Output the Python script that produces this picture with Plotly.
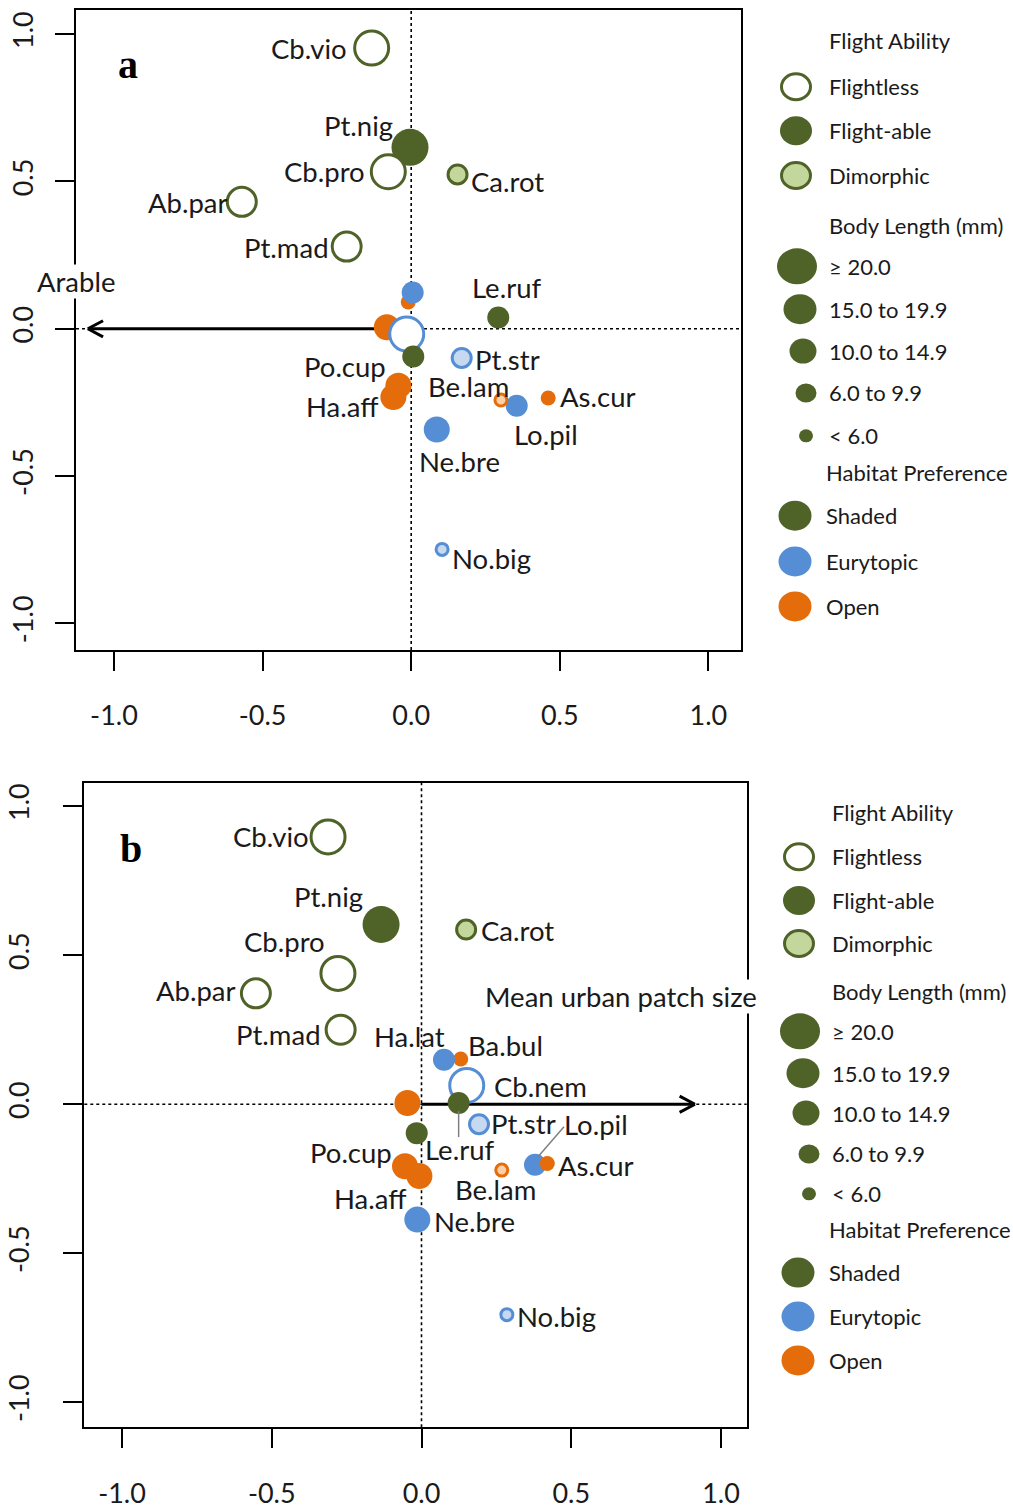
import math
import plotly.graph_objects as go

# ---------------------------------------------------------------- data
labels = ["Cb.vio", "Cb.pro", "Pt.nig", "Ca.rot", "Ab.par", "Pt.mad", "Ba.bul",
          "Ha.lat", "", "Cb.nem", "", "Le.ruf", "Pt.str", "Po.cup", "Ha.aff",
          "Lo.pil", "Be.lam", "As.cur", "Ne.bre", "No.big"]
flight = ["Flightless", "Flightless", "Flight-able", "Dimorphic", "Flightless",
          "Flightless", "Flight-able", "Flight-able", "Flight-able", "Flightless",
          "Flight-able", "Flight-able", "Dimorphic", "Flight-able", "Flight-able",
          "Flight-able", "Dimorphic", "Flight-able", "Flight-able", "Dimorphic"]
habitat = ["Shaded", "Shaded", "Shaded", "Shaded", "Shaded", "Shaded", "Open",
           "Eurytopic", "Open", "Eurytopic", "Shaded", "Shaded", "Eurytopic",
           "Open", "Open", "Eurytopic", "Open", "Open", "Eurytopic", "Eurytopic"]
body_length = ["≥ 20.0", "≥ 20.0", "≥ 20.0", "6.0 to 9.9", "15.0 to 19.9",
               "15.0 to 19.9", "< 6.0", "6.0 to 9.9", "10.0 to 14.9", "≥ 20.0",
               "6.0 to 9.9", "6.0 to 9.9", "6.0 to 9.9", "10.0 to 14.9",
               "10.0 to 14.9", "6.0 to 9.9", "< 6.0", "< 6.0", "10.0 to 14.9",
               "< 6.0"]

# ordination scores, panel a (arable) and panel b (urban patch size)
axis1_a = [-0.133, -0.077, -0.004, 0.156, -0.570, -0.217, -0.010, 0.005, -0.082,
           -0.015, 0.007, 0.293, 0.170, -0.043, -0.060, 0.355, 0.302, 0.461,
           0.086, 0.104]
axis2_a = [0.953, 0.533, 0.616, 0.524, 0.431, 0.279, 0.091, 0.123, 0.005,
           -0.018, -0.094, 0.038, -0.099, -0.193, -0.232, -0.261, -0.242,
           -0.235, -0.342, -0.749]
axis1_b = [-0.312, -0.279, -0.135, 0.149, -0.553, -0.270, 0.131, 0.075, -0.047,
           0.151, -0.016, 0.124, 0.192, -0.055, -0.007, 0.379, 0.268, 0.420,
           -0.014, 0.285]
axis2_b = [0.897, 0.439, 0.603, 0.586, 0.372, 0.250, 0.152, 0.149, 0.004,
           0.063, -0.097, 0.004, -0.067, -0.208, -0.241, -0.203, -0.221,
           -0.199, -0.387, -0.706]

# environmental vectors
arable_vec = (-1.088, 0.0)
urban_vec = (0.913, 0.0)

tick_vals = [-1.0, -0.5, 0.0, 0.5, 1.0]
tick_text = ["-1.0", "-0.5", "0.0", "0.5", "1.0"]

flight_levels = ["Flightless", "Flight-able", "Dimorphic"]
size_levels = ["≥ 20.0", "15.0 to 19.9", "10.0 to 14.9", "6.0 to 9.9", "< 6.0"]
habitat_levels = ["Shaded", "Eurytopic", "Open"]

# ---------------------------------------------------------------- styling
FONT = "Lato"
TXT = "#1a1a1a"
COL = {"Shaded": "#4f6228", "Eurytopic": "#558ed5", "Open": "#e46c0a"}
LIGHT = {"Shaded": "#c3d69b", "Eurytopic": "#c6d9f1", "Open": "#fbd0a8"}
SIZE_PX = {"≥ 20.0": 37, "15.0 to 19.9": 32, "10.0 to 14.9": 26,
           "6.0 to 9.9": 22, "< 6.0": 15}
RING = 3
LABEL_SIZE = 27.5
LEGEND_SIZE = 22

W, H = 1013, 1509


def paper(px, py):
    return px / W, 1 - py / H


# label placement: (xanchor, dx, dy) in screen pixels from the marker centre
label_pos_a = {
    "Cb.vio": ("right", -24, 0), "Pt.nig": ("center", -52, -22),
    "Cb.pro": ("right", -22, 0), "Ca.rot": ("left", 12, 7),
    "Ab.par": ("right", -13, 1), "Pt.mad": ("right", -17, 1),
    "Le.ruf": ("center", 8, -30), "Pt.str": ("left", 12, 2),
    "Po.cup": ("center", -53, -19), "Be.lam": ("center", -32, -14),
    "Ha.aff": ("center", -51, 9), "As.cur": ("left", 11, -2),
    "Lo.pil": ("center", 29, 29), "Ne.bre": ("center", 23, 32),
    "No.big": ("left", 9, 9),
}
label_pos_b = {
    "Cb.vio": ("right", -18, 0), "Pt.nig": ("center", -53, -28),
    "Ca.rot": ("left", 14, 1), "Cb.pro": ("center", -53, -32),
    "Ab.par": ("right", -19, -3), "Pt.mad": ("right", -19, 5),
    "Ha.lat": ("center", -34, -23), "Ba.bul": ("center", 45, -13),
    "Cb.nem": ("left", 26, 1), "Pt.str": ("left", 11, -1),
    "Lo.pil": ("center", 61, -40), "Le.ruf": ("center", 1, 46),
    "Po.cup": ("center", -54, -14), "As.cur": ("left", 10, 2),
    "Be.lam": ("center", -6, 19), "Ha.aff": ("center", -49, 22),
    "Ne.bre": ("left", 16, 2), "No.big": ("left", 9, 2),
}
# leader lines (screen pixel offsets from marker centre)
leaders_b = {"Le.ruf": (0, 8, 0, 34), "Lo.pil": (3, -8, 29, -38)}

# draw order tweaks: species brought to the front in a panel
front_a = ["Cb.pro", "Ha.lat"]
front_b = []

panels = [
    dict(xa="x", ya="y", xs=axis1_a, ys=axis2_a, lab=label_pos_a, lead={},
         front=front_a, xdom=(76, 740.7), ydom=(10, 651.7),
         xr=(-1.1278, 1.1087), yr=(-1.0904, 1.0823), ystand=11,
         vec=arable_vec, vec_name="Arable", vec_lab=("center", -12, -47),
         tag="a", tag_px=(128, 65)),
    dict(xa="x2", ya="y2", xs=axis1_b, ys=axis2_b, lab=label_pos_b, lead=leaders_b,
         front=front_b, xdom=(84.3, 746.7), ydom=(785, 1431),
         xr=(-1.1259, 1.0858), yr=(-1.0837, 1.0781), ystand=24,
         vec=urban_vec, vec_name="Mean urban patch size", vec_lab=("center", -74, -108),
         tag="b", tag_px=(131, 851)),
]

fig = go.Figure()
shapes, annotations = [], []

for p in panels:
    xa, ya = p["xa"], p["ya"]
    n = len(labels)
    order = [i for i in range(n) if labels[i] not in p["front"]] + \
            [i for i in range(n) if labels[i] in p["front"]]

    # reference lines through the origin
    shapes.append(dict(type="line", xref=xa, yref=ya + " domain", x0=0, x1=0, y0=0, y1=1,
                       line=dict(color="black", width=1.6, dash="dot"), layer="below"))
    shapes.append(dict(type="line", xref=xa + " domain", yref=ya, x0=0, x1=1, y0=0, y1=0,
                       line=dict(color="black", width=1.6, dash="dot"), layer="below"))

    # environmental arrow
    vx, vy = p["vec"]
    L = math.hypot(vx, vy)
    ux, uy = vx / L, vy / L
    head, ang = 0.058, math.radians(28)
    hx = []
    hy = []
    for s in (1, -1):
        ca, sa = math.cos(s * ang), math.sin(s * ang)
        rx, ry = ux * ca - uy * sa, ux * sa + uy * ca
        hx += [vx - head * rx, vx, None]
        hy += [vy - head * ry, vy, None]
    fig.add_trace(go.Scatter(x=[0, vx, None] + hx, y=[0, vy, None] + hy, mode="lines",
                             line=dict(color="black", width=3), xaxis=xa, yaxis=ya,
                             hoverinfo="skip", showlegend=False))
    anc, dx, dy = p["vec_lab"]
    annotations.append(dict(x=vx, y=vy, xref=xa, yref=ya, text=p["vec_name"],
                            showarrow=False, xanchor=anc, yanchor="middle",
                            xshift=dx, yshift=-dy, bgcolor="white", borderpad=0,
                            font=dict(family=FONT, size=LABEL_SIZE, color=TXT)))

    # species markers
    fills, lcols, lw, sizes = [], [], [], []
    for i in order:
        c = COL[habitat[i]]
        d = SIZE_PX[body_length[i]]
        if flight[i] == "Flight-able":
            fills.append(c); lcols.append(c); lw.append(0); sizes.append(d)
        elif flight[i] == "Flightless":
            fills.append("white"); lcols.append(c); lw.append(RING)
            sizes.append(d - RING)
        else:
            fills.append(LIGHT[habitat[i]]); lcols.append(c); lw.append(RING)
            sizes.append(d - RING)
    fig.add_trace(go.Scatter(
        x=[p["xs"][i] for i in order], y=[p["ys"][i] for i in order], mode="markers",
        marker=dict(symbol="circle", size=sizes, color=fills, opacity=1,
                    line=dict(color=lcols, width=lw)),
        xaxis=xa, yaxis=ya, hoverinfo="skip", showlegend=False, cliponaxis=False))

    # species labels (only those placed in this panel)
    for i in range(n):
        name = labels[i]
        if not name or name not in p["lab"]:
            continue
        anc, dx, dy = p["lab"][name]
        annotations.append(dict(x=p["xs"][i], y=p["ys"][i], xref=xa, yref=ya, text=name,
                                showarrow=False, xanchor=anc, yanchor="middle",
                                xshift=dx, yshift=-dy, borderpad=0,
                                font=dict(family=FONT, size=LABEL_SIZE, color=TXT)))
        if name in p["lead"]:
            x0, y0, x1, y1 = p["lead"][name]
            shapes.append(dict(type="line", xref=xa, yref=ya, xsizemode="pixel",
                               ysizemode="pixel", xanchor=p["xs"][i], yanchor=p["ys"][i],
                               x0=x0, x1=x1, y0=-y0, y1=-y1,
                               line=dict(color="#808080", width=1.5)))

    # panel tag
    tx, ty = paper(*p["tag_px"])
    annotations.append(dict(x=tx, y=ty, xref="paper", yref="paper", text="<b>%s</b>" % p["tag"],
                            showarrow=False, xanchor="center", yanchor="middle",
                            font=dict(family="Liberation Serif", size=40, color="black")))

# ---------------------------------------------------------------- axes
def axis(dom_px, rng, horizontal, standoff):
    if horizontal:
        dom = [dom_px[0] / W, dom_px[1] / W]
    else:
        dom = [1 - dom_px[1] / H, 1 - dom_px[0] / H]
    return dict(domain=dom, range=list(rng), showgrid=False, zeroline=False,
                showline=True, linecolor="black", linewidth=2, mirror=True,
                ticks="outside", ticklen=19, tickwidth=2, tickcolor="black",
                tickmode="array", tickvals=tick_vals, ticktext=tick_text,
                tickangle=0 if horizontal else -90,
                ticklabelstandoff=standoff,
                tickfont=dict(family=FONT, size=27, color=TXT), fixedrange=True)

pa, pb = panels
layout_axes = dict(
    xaxis=dict(axis(pa["xdom"], pa["xr"], True, 22), anchor="y"),
    yaxis=dict(axis(pa["ydom"], pa["yr"], False, pa["ystand"]), anchor="x"),
    xaxis2=dict(axis(pb["xdom"], pb["xr"], True, 22), anchor="y2"),
    yaxis2=dict(axis(pb["ydom"], pb["yr"], False, pb["ystand"]), anchor="x2"),
)

# ---------------------------------------------------------------- legends
legend_rows = {
    "a": dict(y=[41, 87, 131, 176, 226, 267, 310, 352, 394, 437, 474, 517, 563, 608],
              dx=0),
    "b": dict(y=[815, 859, 903, 946, 994, 1034, 1076, 1116, 1157, 1197, 1233, 1276, 1320, 1364],
              dx=3),
}
flight_marker = (32, 29)
body_marker = {"≥ 20.0": (40, 36), "15.0 to 19.9": (33, 30), "10.0 to 14.9": (27, 25),
               "6.0 to 9.9": (21, 19), "< 6.0": (14, 13)}
body_cx = {"≥ 20.0": 797, "15.0 to 19.9": 800, "10.0 to 14.9": 803,
           "6.0 to 9.9": 806, "< 6.0": 806}
habitat_marker = (33, 30)


def legend_circle(cx, cy, w, h, fill, line_col, line_w):
    px, py = paper(cx, cy)
    return dict(type="circle", xref="paper", yref="paper", xsizemode="pixel",
                ysizemode="pixel", xanchor=px, yanchor=py,
                x0=-w / 2, x1=w / 2, y0=-h / 2, y1=h / 2,
                fillcolor=fill, line=dict(color=line_col, width=line_w))


def legend_text(x, y, text):
    px, py = paper(x, y)
    return dict(x=px, y=py, xref="paper", yref="paper", text=text, showarrow=False,
                xanchor="left", yanchor="middle", borderpad=0,
                font=dict(family=FONT, size=LEGEND_SIZE, color=TXT))


green = COL["Shaded"]
for key, rows in legend_rows.items():
    ys, dx = rows["y"], rows["dx"]
    r = iter(ys)
    annotations.append(legend_text(828 + dx, next(r), "Flight Ability"))
    for lvl in flight_levels:
        y = next(r)
        w, h = flight_marker
        if lvl == "Flightless":
            shapes.append(legend_circle(796 + dx, y, w - RING, h - RING, "white", green, RING))
        elif lvl == "Flight-able":
            shapes.append(legend_circle(796 + dx, y, w, h, green, green, 0))
        else:
            shapes.append(legend_circle(796 + dx, y, w - RING, h - RING, LIGHT["Shaded"], green, RING))
        annotations.append(legend_text(828 + dx, y, lvl))
    annotations.append(legend_text(828 + dx, next(r), "Body Length (mm)"))
    for lvl in size_levels:
        y = next(r)
        w, h = body_marker[lvl]
        shapes.append(legend_circle(body_cx[lvl] + dx, y, w, h, green, green, 0))
        annotations.append(legend_text(828 + dx, y, lvl))
    annotations.append(legend_text(825 + dx, next(r), "Habitat Preference"))
    for lvl in habitat_levels:
        y = next(r)
        w, h = habitat_marker
        shapes.append(legend_circle(795 + dx, y, w, h, COL[lvl], COL[lvl], 0))
        annotations.append(legend_text(825 + dx, y, lvl))

fig.update_layout(
    width=W, height=H, margin=dict(l=0, r=0, t=0, b=0),
    paper_bgcolor="white", plot_bgcolor="white", showlegend=False,
    shapes=shapes, annotations=annotations, **layout_axes,
)

fig.write_html("out.html")
